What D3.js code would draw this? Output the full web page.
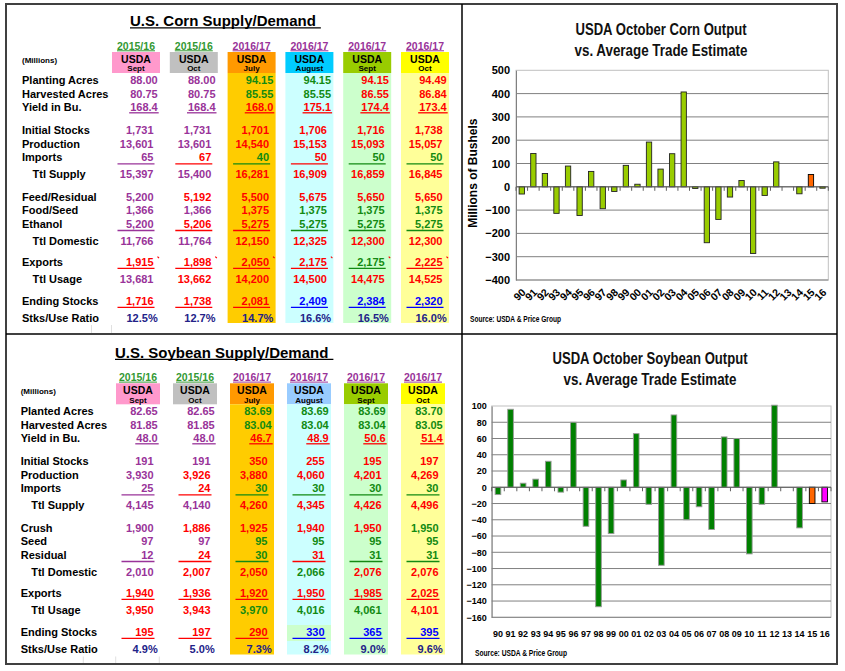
<!DOCTYPE html>
<html>
<head>
<meta charset="utf-8">
<script src="https://cdn.jsdelivr.net/npm/d3@7"></script>
<style>
body { margin: 0; background: #fff; }
text { font-family: Arial, "Liberation Sans", sans-serif; font-weight: bold; }
</style>
</head>
<body>
<svg id="chart" width="845" height="671"></svg>
<script>
// ---- column headers (both tables) ----
const colYears = ["2015/16", "2015/16", "2016/17", "2016/17", "2016/17", "2016/17"];
const colMonths = ["Sept", "Oct", "July", "August", "Sept", "Oct"];

// ---- corn table ----
const cornLabels = ["Planting Acres", "Harvested Acres", "Yield in Bu.", "Initial Stocks", "Production", "Imports",
  "Ttl Supply", "Feed/Residual", "Food/Seed", "Ethanol", "Ttl Domestic", "Exports", "Ttl Usage", "Ending Stocks", "Stks/Use Ratio"];
const cornFormats = ["acre", "acre", "yield", "int", "int", "int", "int", "int", "int", "int", "int", "int", "int", "int", "pct"];
const cornValues = [
  [88.00, 88.00, 94.15, 94.15, 94.15, 94.49],
  [80.75, 80.75, 85.55, 85.55, 86.55, 86.84],
  [168.4, 168.4, 168.0, 175.1, 174.4, 173.4],
  [1731, 1731, 1701, 1706, 1716, 1738],
  [13601, 13601, 14540, 15153, 15093, 15057],
  [65, 67, 40, 50, 50, 50],
  [15397, 15400, 16281, 16909, 16859, 16845],
  [5200, 5192, 5500, 5675, 5650, 5650],
  [1366, 1366, 1375, 1375, 1375, 1375],
  [5200, 5206, 5275, 5275, 5275, 5275],
  [11766, 11764, 12150, 12325, 12300, 12300],
  [1915, 1898, 2050, 2175, 2175, 2225],
  [13681, 13662, 14200, 14500, 14475, 14525],
  [1716, 1738, 2081, 2409, 2384, 2320],
  [12.5, 12.7, 14.7, 16.6, 16.5, 16.0]
];
// colour key per cell: p purple, g green, r red, b blue, n navy
const cornColours = ["ppggrr", "ppggrr", "pprrrr", "pprrrr", "pprrrr", "prgrgg", "pprrrr", "prrrrr",
  "pprggg", "prrggg", "pprrrr", "rrrrgr", "prrrrr", "rrrbbb", "nnnnnn"];

// ---- soybean table ----
const soyLabels = ["Planted Acres", "Harvested Acres", "Yield in Bu.", "Initial Stocks", "Production", "Imports",
  "Ttl Supply", "Crush", "Seed", "Residual", "Ttl Domestic", "Exports", "Ttl Usage", "Ending Stocks", "Stks/Use Ratio"];
const soyFormats = cornFormats;
const soyValues = [
  [82.65, 82.65, 83.69, 83.69, 83.69, 83.70],
  [81.85, 81.85, 83.04, 83.04, 83.04, 83.05],
  [48.0, 48.0, 46.7, 48.9, 50.6, 51.4],
  [191, 191, 350, 255, 195, 197],
  [3930, 3926, 3880, 4060, 4201, 4269],
  [25, 24, 30, 30, 30, 30],
  [4145, 4140, 4260, 4345, 4426, 4496],
  [1900, 1886, 1925, 1940, 1950, 1950],
  [97, 97, 95, 95, 95, 95],
  [12, 24, 30, 31, 31, 31],
  [2010, 2007, 2050, 2066, 2076, 2076],
  [1940, 1936, 1920, 1950, 1985, 2025],
  [3950, 3943, 3970, 4016, 4061, 4101],
  [195, 197, 290, 330, 365, 395],
  [4.9, 5.0, 7.3, 8.2, 9.0, 9.6]
];
const soyColours = ["ppgggg", "ppgggg", "pprrrr", "pprrrr", "prrrrr", "prgggg", "pprrrr", "prrrrg",
  "ppgggg", "prgrgg", "prrgrr", "rrrrrr", "rrgggr", "rrrbbb", "nnnnnn"];

// ---- bar charts ----
const years = ["90", "91", "92", "93", "94", "95", "96", "97", "98", "99", "00", "01", "02", "03",
  "04", "05", "06", "07", "08", "09", "10", "11", "12", "13", "14", "15", "16"];
const cornMiss = [-31, 143, 57, -114, 89, -123, 66, -94, -20, 92, 11, 192, 76, 142,
  407, -7, -240, -140, -44, 27, -286, -37, 107, 0, -30, 53, -6];
const soyMiss = [-9, 96, 5, 10, 32, -6, 80, -48, -147, -57, 9, 66, -21, -96,
  89, -40, -24, -52, 62, 60, -82, -21, 101, 0, -50, -20, -18];
const cornTicks = d3.range(-400, 501, 100);
const soyTicks = d3.range(-160, 101, 20);

const palette = { p: "#993399", g: "#128a12", r: "#FF0000", b: "#0000FF", n: "#222288" };
const fmt = {
  acre: d3.format(".2f"),
  yield: d3.format(".1f"),
  int: d3.format(","),
  pct: v => d3.format(".1f")(v) + "%"
};
const rowSteps = [0, 13.5, 13.5, 23.3, 13.5, 13.5, 17, 22.7, 13.3, 13.6, 17, 20.8, 17, 22, 17];
const cellUnderline = ["Imports", "Ethanol", "Residual", "Exports", "Ending Stocks"];

const svg = d3.select("#chart");

// frame
svg.append("rect").attr("x", 6).attr("y", 4).attr("width", 831).attr("height", 660)
  .attr("fill", "#fff").attr("stroke", "#404040").attr("stroke-width", 2);

function drawTable(t) {
  const g = svg.append("g");
  const colX = i => t.colStart + i * t.colStep;
  const rowY = [];
  rowSteps.reduce((acc, s, i) => (rowY[i] = acc + s), t.firstRow);
  const headBottom = t.headTop + 21;

  // title
  const title = g.append("text").attr("x", t.titleX).attr("y", t.titleY)
    .attr("font-size", 15).text(t.title);
  const tw = title.node().getComputedTextLength();
  g.append("line").attr("x1", t.titleX).attr("x2", t.titleX + tw + 5)
    .attr("y1", t.titleY + 1.8).attr("y2", t.titleY + 1.8).attr("stroke", "#000").attr("stroke-width", 1.3);

  // column fills
  colMonths.forEach((m, i) => {
    g.append("rect").attr("x", colX(i)).attr("y", t.headTop).attr("width", t.colW).attr("height", 21)
      .attr("fill", t.headFill[i]);
    if (t.bodyFill[i]) {
      g.append("rect").attr("x", colX(i)).attr("y", headBottom).attr("width", t.colW)
        .attr("height", t.bodyBottom - headBottom).attr("fill", t.bodyFill[i]);
    }
  });
  if (t.extra) t.extra(g, colX, rowY);

  // headers
  colYears.forEach((yr, i) => {
    const cx = colX(i) + t.colW / 2;
    const c = yr === "2015/16" ? "#339933" : "#993399";
    const yt = g.append("text").attr("x", cx).attr("y", t.headTop - 2.5).attr("text-anchor", "middle")
      .attr("font-size", 10.5).attr("fill", c).text(yr);
    const w = yt.node().getComputedTextLength();
    g.append("line").attr("x1", cx - w / 2).attr("x2", cx + w / 2)
      .attr("y1", t.headTop - 1.2).attr("y2", t.headTop - 1.2).attr("stroke", c).attr("stroke-width", 1);
    g.append("text").attr("x", cx).attr("y", t.headTop + 10.5).attr("text-anchor", "middle")
      .attr("font-size", 10.5).attr("fill", "#000").text("USDA");
    g.append("text").attr("x", cx).attr("y", t.headTop + 19.3).attr("text-anchor", "middle")
      .attr("font-size", 8).attr("fill", "#000").text(colMonths[i]);
  });
  g.append("text").attr("x", t.labelX).attr("y", t.headTop + 10.8).attr("font-size", 8).text("(Millions)");

  // rows
  t.labels.forEach((lab, r) => {
    const y = rowY[r];
    g.append("text").attr("x", lab.startsWith("Ttl") ? t.labelX + 10.5 : t.labelX).attr("y", y)
      .attr("font-size", 11).attr("fill", "#000").text(lab);
    t.values[r].forEach((v, i) => {
      const kind = t.formats[r];
      const right = colX(i) + t.colW - (kind === "int" ? 6.5 : 2.3);
      const col = palette[t.colours[r][i]];
      const txt = g.append("text").attr("x", right).attr("y", y).attr("text-anchor", "end")
        .attr("font-size", 11).attr("fill", col).text(fmt[kind](v));
      if (kind === "yield") {
        const w = txt.node().getComputedTextLength();
        g.append("line").attr("x1", right - w - 1).attr("x2", right + 1)
          .attr("y1", y + 1.8).attr("y2", y + 1.8).attr("stroke", col).attr("stroke-width", 1.3);
      }
      if (cellUnderline.includes(lab)) {
        g.append("line").attr("x1", colX(i) + 5.5).attr("x2", colX(i) + t.colW - 5.5)
          .attr("y1", y + 2.6).attr("y2", y + 2.6).attr("stroke", col).attr("stroke-width", 1.3);
      }
      if (t.marks && lab === "Exports") {
        g.append("path").attr("d", `M${right + 4},${y - 9} l1.5,1.5`)
          .attr("stroke", "#FF0000").attr("stroke-width", 1.2);
      }
    });
  });

  // faint sheet grid lines at the bottom
  t.gridX.forEach(x => {
    g.append("line").attr("x1", x).attr("x2", x).attr("y1", t.bodyBottom + 2).attr("y2", t.panelBottom)
      .attr("stroke", "#d8d8d8").attr("stroke-width", 0.8);
  });
}

drawTable({
  title: "U.S. Corn Supply/Demand", titleX: 130, titleY: 26,
  headTop: 52, bodyBottom: 323, panelBottom: 333, firstRow: 84, labelX: 22,
  colStart: 112, colStep: 57.8, colW: 48,
  headFill: ["#FF99CC", "#C0C0C0", "#FF9900", "#00CCFF", "#99CC00", "#FFFF00"],
  bodyFill: [null, null, "#FFCC00", "#CCFFFF", "#CCFFCC", "#FFFF99"],
  labels: cornLabels, values: cornValues, formats: cornFormats, colours: cornColours,
  marks: true, gridX: [91.5, 111.5]
});

drawTable({
  title: "U.S. Soybean Supply/Demand", titleX: 115, titleY: 357.5,
  headTop: 383.3, bodyBottom: 654.5, panelBottom: 663, firstRow: 415, labelX: 20.7,
  colStart: 116, colStep: 57, colW: 44,
  headFill: ["#FF99CC", "#C0C0C0", "#FF9900", "#99CCFF", "#99CC00", "#FFFF00"],
  bodyFill: [null, null, "#FFCC00", "#CCFFFF", "#CCFFCC", "#FFFF99"],
  labels: soyLabels, values: soyValues, formats: soyFormats, colours: soyColours,
  marks: false, gridX: [83.3, 115.7, 159.3],
  extra: (g, colX, rowY) => {
    g.append("rect").attr("x", colX(3)).attr("y", rowY[13] - 10.7).attr("width", 44).attr("height", 16)
      .attr("fill", "#CCFFCC");
  }
});

function drawBars(c) {
  const g = svg.append("g");
  const x = d3.scaleBand().domain(years).range(c.xRange).paddingInner(c.pad).paddingOuter(c.pad / 2);
  const y = d3.scaleLinear().domain(d3.extent(c.ticks)).range(c.yRange);
  const [x0, x1] = c.xRange;

  // titles
  c.titles.forEach((tt, i) => {
    g.append("text").attr("x", c.titleCx).attr("y", c.titleY[i]).attr("text-anchor", "middle")
      .attr("font-size", 16).attr("textLength", c.titleLen[i]).attr("lengthAdjust", "spacingAndGlyphs")
      .attr("fill", "#111").text(tt);
  });

  // plot border + grid
  g.append("rect").attr("x", x0).attr("y", c.yRange[1]).attr("width", x1 - x0)
    .attr("height", c.yRange[0] - c.yRange[1]).attr("fill", "none").attr("stroke", "#c0c0c0");
  g.append("g").selectAll("line").data(c.ticks.slice(0, -1))
    .join("line").attr("x1", x0).attr("x2", x1).attr("y1", d => y(d)).attr("y2", d => y(d))
    .attr("stroke", "#808080").attr("stroke-width", 1);

  // y axis
  const ya = g.append("g").attr("transform", `translate(${x0},0)`)
    .call(d3.axisLeft(y).tickValues(c.ticks).tickSize(0).tickPadding(c.tickPad).tickFormat(d3.format("d")));
  ya.select(".domain").attr("stroke", "#808080");
  ya.selectAll("text").attr("font-size", c.tickFont).attr("fill", "#000")
    .attr("font-family", "Arial, 'Liberation Sans', sans-serif").attr("font-weight", "bold");

  // bars
  const bars = g.append("g");
  c.values.forEach((v, i) => {
    if (v === 0) return;
    const sp = c.special[years[i]];
    bars.append("rect").attr("x", x(years[i])).attr("width", x.bandwidth())
      .attr("y", y(Math.max(0, v))).attr("height", Math.abs(y(v) - y(0)))
      .attr("fill", sp || c.fill)
      .attr("stroke", sp ? "#000" : c.stroke).attr("stroke-width", 0.9);
  });

  // zero axis with category ticks
  g.append("line").attr("x1", x0).attr("x2", x1).attr("y1", y(0)).attr("y2", y(0))
    .attr("stroke", "#606060").attr("stroke-width", 1);
  g.append("g").selectAll("line").data(d3.range(years.length + 1)).join("line")
    .attr("x1", i => x0 + i * x.step()).attr("x2", i => x0 + i * x.step())
    .attr("y1", y(0)).attr("y2", y(0) + 4).attr("stroke", "#606060");

  // category labels
  const lab = g.append("g").selectAll("text").data(years).join("text")
    .attr("font-size", c.catFont).attr("fill", "#000").text(d => d);
  if (c.rotate) {
    lab.attr("text-anchor", "end")
      .attr("transform", d => `translate(${x(d) + x.bandwidth() / 2 + 4.5},${c.catY}) rotate(-45)`);
  } else {
    lab.attr("text-anchor", "middle").attr("x", d => x(d) + x.bandwidth() / 2).attr("y", c.catY);
  }

  if (c.yLabel) {
    g.append("text").attr("transform", `translate(${c.yLabelX},${(c.yRange[0] + c.yRange[1]) / 2 - 2}) rotate(-90)`)
      .attr("text-anchor", "middle").attr("dy", "0.35em").attr("font-size", 12).attr("fill", "#000").text(c.yLabel);
  }

  g.append("text").attr("x", c.srcX).attr("y", c.srcY).attr("font-size", 9.5)
    .attr("textLength", c.srcLen).attr("lengthAdjust", "spacingAndGlyphs").attr("fill", "#000")
    .text("Source: USDA & Price Group");
}

drawBars({
  values: cornMiss, ticks: cornTicks, xRange: [516, 828.3], yRange: [280, 70.3], pad: 0.54,
  titles: ["USDA October Corn Output", "vs. Average Trade Estimate"], titleCx: 661, titleY: [35, 56],
  titleLen: [171, 173], tickFont: 11, tickPad: 6, catFont: 10.5, catY: 293, rotate: true,
  fill: "#99CC00", stroke: "#222", special: { "15": "#FF6600" },
  yLabel: "Millions of Bushels", yLabelX: 472.7, srcX: 470, srcY: 321.5, srcLen: 91
});

drawBars({
  values: soyMiss, ticks: soyTicks, xRange: [491.7, 831], yRange: [617.3, 406], pad: 0.55,
  titles: ["USDA October Soybean Output", "vs. Average Trade Estimate"], titleCx: 650, titleY: [364, 385],
  titleLen: [195, 173], tickFont: 9, tickPad: 5, catFont: 9, catY: 636.5, rotate: false,
  fill: "#008000", stroke: "#9a9a9a", special: { "15": "#FF6600", "16": "#FF00FF" },
  srcX: 475, srcY: 655.5, srcLen: 92
});

// panel dividers
svg.append("line").attr("x1", 462).attr("x2", 462).attr("y1", 4).attr("y2", 664)
  .attr("stroke", "#000").attr("stroke-width", 1.5);
svg.append("line").attr("x1", 6).attr("x2", 837).attr("y1", 334).attr("y2", 334)
  .attr("stroke", "#000").attr("stroke-width", 1.5);
</script>
</body>
</html>
